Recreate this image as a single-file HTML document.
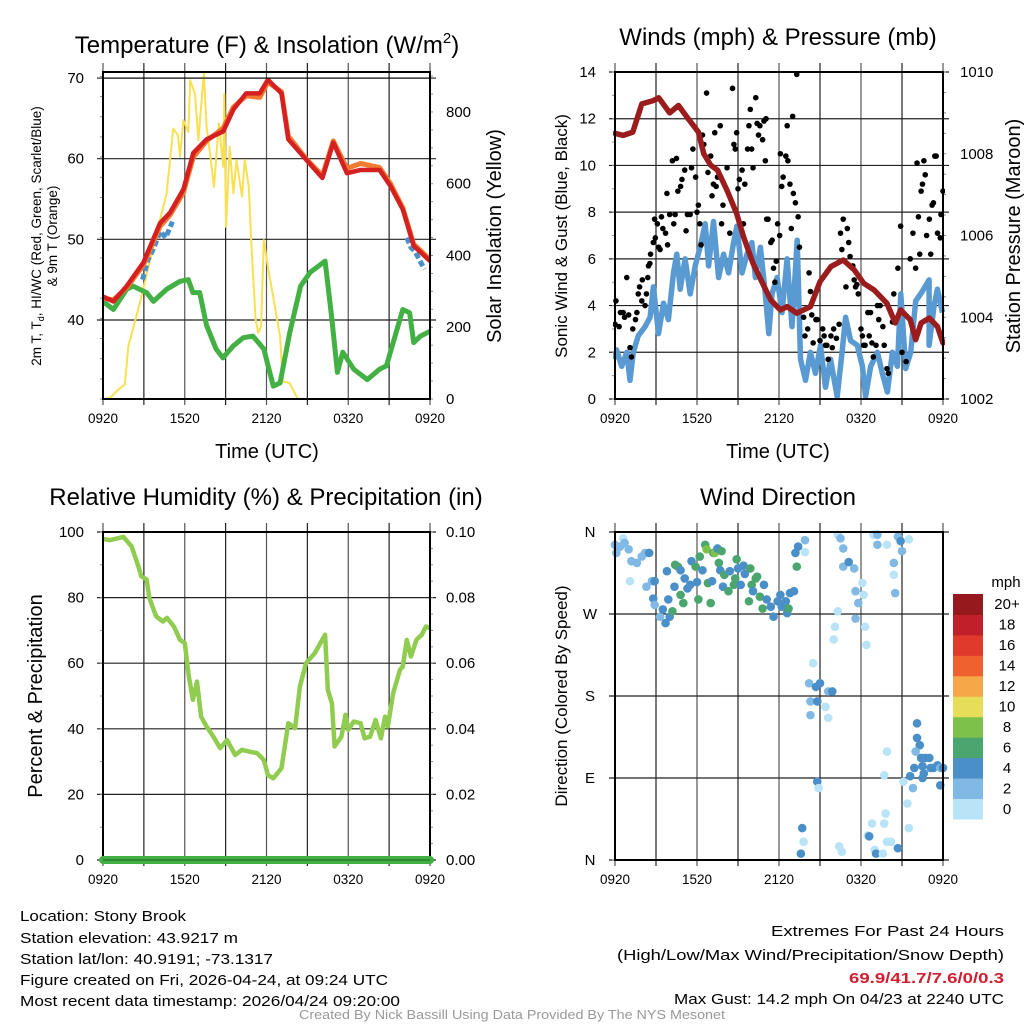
<!DOCTYPE html>
<html><head><meta charset="utf-8"><style>
html,body{margin:0;padding:0;background:#fff;}
svg{display:block;font-family:"Liberation Sans",sans-serif;}
</style></head><body>
<svg id="chart" width="1024" height="1024" viewBox="0 0 1024 1024" xmlns="http://www.w3.org/2000/svg">
<rect width="1024" height="1024" fill="#fff"/>
<g id="layer"></g>
<g font-size="15" fill="#000">
<text x="20" y="921" textLength="166" lengthAdjust="spacingAndGlyphs">Location: Stony Brook</text>
<text x="20" y="943" textLength="218" lengthAdjust="spacingAndGlyphs">Station elevation: 43.9217 m</text>
<text x="20" y="964" textLength="253" lengthAdjust="spacingAndGlyphs">Station lat/lon: 40.9191; -73.1317</text>
<text x="20" y="985" textLength="368" lengthAdjust="spacingAndGlyphs">Figure created on Fri, 2026-04-24, at 09:24 UTC</text>
<text x="20" y="1006" textLength="380" lengthAdjust="spacingAndGlyphs">Most recent data timestamp: 2026/04/24 09:20:00</text>
<text x="1004" y="936" text-anchor="end" textLength="233" lengthAdjust="spacingAndGlyphs">Extremes For Past 24 Hours</text>
<text x="1004" y="960" text-anchor="end" textLength="387" lengthAdjust="spacingAndGlyphs">(High/Low/Max Wind/Precipitation/Snow Depth)</text>
<text x="1004" y="983" text-anchor="end" font-weight="bold" fill="#d02030" textLength="155" lengthAdjust="spacingAndGlyphs">69.9/41.7/7.6/0/0.3</text>
<text x="1004" y="1004" text-anchor="end" textLength="330" lengthAdjust="spacingAndGlyphs">Max Gust: 14.2 mph On 04/23 at 2240 UTC</text>
<text x="512" y="1019" text-anchor="middle" font-size="12.5" fill="#999" textLength="426" lengthAdjust="spacingAndGlyphs">Created By Nick Bassill Using Data Provided By The NYS Mesonet</text>
</g>
</svg>
<script>
// ---------- DATA ----------
const xTickLabels = ["0920","1520","2120","0320","0920"];
const tempHours = [0,0.76,1.74,2.96,4.18,4.92,5.9,6.63,7.6,8.83,9.57,10.5,11.5,12.1,13.1,13.6,14.9,16.1,16.9,17.9,18.9,20.3,21.1,22.0,22.8,24];
const tempRed   = [42.9,42.3,44.2,47.1,52.0,53.3,56.2,60.7,62.4,63.4,66.1,68.1,68.1,69.8,68.1,62.4,59.9,57.6,62.0,58.2,58.6,58.6,56.6,53.7,49.2,47.3];
const temp9m    = [42.7,42.5,44.0,46.8,51.6,53.0,55.8,60.2,62.2,63.8,66.4,67.8,67.6,69.5,68.3,62.8,60.0,57.9,62.2,58.8,59.4,58.9,56.9,53.9,49.4,47.5];
const hiwcHours1 = [2.9,3.3,3.7,4.2,4.6,5.1];
const hiwcVals1  = [45.0,47.5,48.8,51.0,50.2,52.2];
const hiwcHours2 = [22.3,22.6,22.9,23.3,23.6];
const hiwcVals2  = [50.2,49.0,48.5,47.2,46.3];
const dewHours = [0,0.76,1.74,2.2,3.2,3.7,4.67,5.65,6.26,6.6,7.1,7.6,8.3,8.8,9.57,10.3,11.0,11.8,12.5,13.0,13.7,14.5,15.2,16.3,16.8,17.2,17.6,18.4,19.4,20.3,20.8,21.3,22.0,22.5,22.8,23.3,24];
const dewVals  = [42.3,41.3,43.8,44.2,43.4,42.3,43.8,44.8,45.0,43.4,43.4,39.3,36.4,35.3,36.8,37.8,38.0,36.4,31.8,32.2,38.4,44.2,45.9,47.3,40.1,33.5,36.0,33.9,32.6,33.9,34.3,37.2,41.3,40.9,37.2,38.0,38.6];
const solarHours = [0,0.5,1.25,1.6,1.86,2.7,3.7,4.67,5.16,5.5,5.65,5.9,6.26,6.4,6.75,7.0,7.4,7.6,7.85,8.15,8.5,8.83,8.9,9.03,9.3,9.57,9.8,10.2,10.4,10.7,10.9,11.2,11.4,11.6,11.8,12.1,13.0,13.2,13.7,14.3,24];
const solarVals  = [0,3,30,40,146,267,425,573,754,735,675,777,744,888,851,721,907,758,684,591,768,647,851,480,703,573,666,564,666,591,425,221,184,202,443,369,174,49,44,0,0];
const tempTicks = [40,50,60,70];
const solarTicks = [0,200,400,600,800];
const pressHours = [0,0.6,1.3,1.96,2.8,3.2,4.0,4.65,5.26,6.1,6.5,7.0,7.5,8.2,8.9,9.4,10.1,10.8,11.4,12.1,12.6,13.3,14.3,15.0,15.8,16.7,17.5,18.2,18.95,19.9,20.5,20.9,21.6,22.0,22.4,23.0,23.6,24];
const pressVals  = [1008.5,1008.45,1008.53,1009.22,1009.3,1009.37,1009.0,1009.18,1008.9,1008.53,1008.0,1007.72,1007.6,1007.1,1006.54,1005.97,1005.32,1004.83,1004.42,1004.18,1004.26,1004.1,1004.26,1004.87,1005.24,1005.4,1005.16,1004.83,1004.67,1004.34,1003.86,1004.18,1003.94,1003.45,1003.86,1003.98,1003.77,1003.37];
const windHours = [0,0.12,0.49,0.86,1.1,1.34,1.7,2.2,2.57,2.81,3.18,3.55,3.91,4.28,4.52,4.77,5.13,5.5,5.87,6.23,6.6,6.85,7.21,7.58,7.95,8.31,8.68,8.92,9.29,9.66,10.02,10.27,10.64,11.0,11.25,11.49,11.86,12.22,12.59,12.95,13.33,13.57,13.94,14.3,14.67,15.04,15.4,15.77,16.26,16.63,16.87,17.24,17.73,18.1,18.34,18.71,19.2,19.56,19.93,20.3,20.66,20.91,21.27,21.64,22.0,22.37,22.98,22.98,23.35,23.59,23.96];
const windVals  = [1.7,2.1,1.4,2.0,0.8,2.0,2.7,3.1,3.5,4.8,2.8,4.1,3.4,5.4,6.2,4.7,6.0,4.5,5.7,6.5,7.5,5.7,7.6,5.2,6.2,5.4,6.7,7.4,5.4,6.2,6.7,5.2,6.5,4.5,2.8,4.5,5.2,3.7,6.0,3.1,6.8,1.7,0.8,2.0,1.1,2.3,0.5,1.7,0.1,2.1,3.5,2.5,2.3,1.4,0.1,1.4,2.0,1.1,0.3,2.0,1.4,4.5,1.3,2.0,4.2,4.5,5.1,2.3,4.0,4.7,3.7];
const gustHours = [0,0.07,0.3,0.4,0.6,0.7,0.86,1.0,1.1,1.2,1.3,1.5,1.6,1.7,1.8,1.96,2.0,2.2,2.3,2.4,2.45,2.55,2.6,2.8,2.9,2.95,3.1,3.2,3.3,3.4,3.5,3.7,3.8,3.85,4.0,4.2,4.3,4.4,4.5,4.6,4.8,4.9,5.1,5.2,5.3,5.5,5.6,5.7,5.9,6.0,6.1,6.2,6.3,6.4,6.5,6.7,6.8,7.0,7.1,7.2,7.3,7.4,7.5,7.7,7.8,7.9,8.2,8.4,8.6,8.7,8.8,8.9,9.0,9.1,9.3,9.4,9.5,9.7,9.8,9.9,10.0,10.1,10.3,10.4,10.5,10.6,10.8,10.9,11.0,11.05,11.1,11.2,11.4,11.5,11.6,11.7,11.8,11.9,12.05,12.1,12.2,12.3,12.5,12.6,12.65,12.8,12.9,13.0,13.05,13.2,13.3,13.4,13.5,13.8,13.9,14.1,14.2,14.3,14.4,14.5,14.7,14.8,15.0,15.2,15.3,15.4,15.5,15.6,15.8,15.9,16.0,16.2,16.4,16.5,16.6,16.7,16.9,17.0,17.1,17.2,17.4,17.5,17.6,17.7,17.8,18.0,18.1,18.2,18.3,18.5,18.6,18.7,18.8,18.9,19.1,19.2,19.3,19.4,19.6,19.7,19.9,20.0,20.3,20.4,20.7,20.9,21.0,21.3,21.6,21.8,22.0,22.1,22.2,22.3,22.4,22.5,22.6,22.7,22.8,23.0,23.1,23.2,23.3,23.4,23.5,23.6,23.8,23.85,24.0];
const gustVals  = [3.2,4.2,3.1,3.7,3.7,3.5,5.2,3.6,2.2,1.8,3.0,3.4,3.7,4.5,4.8,4.2,5.1,4.0,4.5,5.2,5.7,5.8,6.2,6.7,7.7,6.9,7.5,6.5,6.4,7.8,7.3,7.1,8.8,6.6,7.9,10.2,7.5,7.9,10.3,8.9,9.1,9.4,9.8,7.2,7.9,7.9,9.9,10.7,9.5,8.0,8.3,7.5,6.6,11.3,10.9,13.1,9.7,10.4,8.7,9.2,11.4,9.1,9.5,11.7,7.5,8.3,9.9,7.1,13.3,10.9,10.7,11.4,9.0,9.4,9.8,7.5,9.2,10.7,11.7,12.4,10.7,9.9,12.9,11.8,11.3,11.7,11.1,11.9,10.2,12.0,7.7,7.7,6.7,6.8,5.6,5.0,5.9,7.5,7.0,10.5,9.1,9.5,10.4,11.7,10.2,9.2,7.3,12.1,8.8,8.4,13.9,7.8,6.5,3.5,2.7,3.0,5.4,4.6,3.6,2.4,3.4,3.4,2.5,3.0,2.7,2.3,2.3,1.7,2.7,2.2,3.0,2.6,3.2,7.1,6.4,7.7,4.8,7.3,6.7,6.1,5.7,5.1,4.8,4.9,4.5,3.0,2.7,2.3,2.3,3.7,2.7,3.7,2.4,1.8,2.3,4.0,3.4,4.0,3.1,2.3,1.3,1.1,3.3,4.5,5.6,7.4,2.0,1.6,6.0,7.1,5.6,10.1,7.8,6.2,8.9,9.2,10.2,9.6,7.0,7.7,6.2,8.3,8.4,10.4,10.4,7.1,6.9,7.9,8.9];
const windTicks = [0,2,4,6,8,10,12,14];
const pressTicks = [1002,1004,1006,1008,1010];
const rhHours = [0,0.5,1.5,2.1,2.6,2.8,3.2,3.4,3.9,4.4,4.7,5.2,5.65,6.0,6.3,6.6,6.9,7.2,7.6,8.1,8.6,9.1,9.7,10.2,10.8,11.3,11.8,12.1,12.5,13.1,13.6,14.1,14.45,14.9,15.55,16.3,16.5,16.8,17.0,17.5,17.8,18.0,18.4,18.9,19.2,19.6,20.0,20.4,20.7,20.9,21.3,21.8,22.0,22.3,22.6,23.0,23.4,23.7,24];
const rhVals  = [97.9,97.5,98.5,95.6,89.5,86.5,85.5,79.9,74.3,72.7,73.8,71.2,67.1,66.1,56,48.8,54.4,43.7,40.7,37.6,34.1,36.6,32,33.6,33,32.6,30.5,25.9,24.9,28,41.7,40.2,52.9,60,63.1,68.7,51.9,47.8,34.6,37.6,44.3,39.7,42.2,41.7,37.1,37.6,42.7,37.1,43.7,40.7,50.9,58,59,67.1,62,67.1,68.7,71.2,70.7];
const precipHours = [0,24];
const precipVals  = [0,0];
const rhTicks = [0,20,40,60,80,100];
const precipTicks = ["0.00","0.02","0.04","0.06","0.08","0.10"];
const dirHours = [0,0.1,0.37,0.6,0.7,1.0,1.2,1.1,1.6,1.96,2.2,2.5,2.3,2.7,2.9,2.8,2.9,3.3,3.5,3.7,3.9,4.0,4.2,3.8,4.4,4.6,4.8,4.35,4.8,5.0,5.1,5.3,5.5,5.6,5.9,6.0,6.1,6.2,6.4,6.6,6.7,6.8,7.0,7.1,7.2,7.3,7.5,7.6,7.7,7.8,7.9,8.0,8.3,8.4,8.7,8.8,8.9,9.0,9.2,9.4,9.5,9.8,9.9,10.0,10.1,10.3,10.4,10.6,10.8,10.9,11.1,11.4,11.6,11.9,12.1,12.2,12.5,12.6,12.7,12.8,13.1,13.3,13.2,13.4,13.9,13.9,14.5,14.2,14.7,15.0,14.3,14.8,15.4,15.6,15.9,15.6,14.3,14.8,14.9,13.7,13.8,13.6,16.3,16.5,16.7,16.7,17.1,17.5,17.6,17.8,18.1,18.2,17.6,16.3,16.1,16.0,18.3,18.4,16.4,16.6,18.9,19.2,19.2,19.9,20.4,20.4,20.5,20.7,20.9,21.0,21.5,18.5,18.6,18.8,19.0,19.1,19.6,19.7,19.8,19.9,20.2,20.7,19.9,19.7,21.1,21.4,21.5,21.6,21.8,21.9,22.1,22.1,22.3,22.0,22.4,22.5,22.6,22.7,23.0,23.1,23.3,23.6,23.8,24.0,23.8,22.5];
const dirDeg   = [346,337,344,353,348,341,328,306,326,333,337,337,300,306,306,287,280,267,275,260,286,267,273,317,324,322,318,300,291,282,309,298,302,328,322,305,286,333,318,346,341,304,282,306,337,337,342,326,318,339,300,313,295,317,302,309,330,320,302,323,314,284,320,302,295,309,311,289,276,302,286,278,267,284,291,278,284,271,276,293,295,322,337,344,351,338,216,194,190,194,174,174,168,185,185,156,159,86,79,35,20,7,357,353,342,322,327,320,295,282,304,291,265,273,256,242,256,236,15,9,357,357,346,346,326,313,293,355,350,339,352,27,26,40,11,7,7,40,51,20,20,13,119,93,86,62,35,92,79,101,150,134,126,119,112,103,95,112,112,101,101,104,101,101,82,90];
const dirSpeedClass = [1,1,1,0,1,1,1,0,1,1,1,2,1,1,2,2,1,1,2,2,2,2,3,2,3,3,2,2,3,3,2,2,2,2,3,2,3,3,2,3,4,3,3,2,3,4,2,3,2,3,2,3,3,2,3,3,3,2,2,2,2,3,3,3,2,3,3,3,3,2,2,2,2,2,2,2,2,2,3,2,2,3,2,2,1,0,0,1,2,2,1,2,0,1,2,0,1,2,0,2,0,2,0,1,1,1,2,1,1,1,0,0,1,0,0,0,0,0,0,0,0,1,1,0,1,0,1,1,2,1,0,0,2,0,0,2,0,0,0,0,0,2,0,0,0,0,0,2,1,2,2,2,2,1,2,2,2,2,2,2,2,2,1,2,2,2];
const speedLabels = ["0","2","4","6","8","10","12","14","16","18","20+"];
const speedColors = ["#b9e3f7","#80b9e3","#4a8fc7","#4aa56e","#7ec14a","#e6de5a","#f6a848","#f06130","#e03a2c","#c1202a","#961a1d"];
const dirTicks = ["N","E","S","W","N"];

// ---------- DRAWING ----------
const NS = "http://www.w3.org/2000/svg";
const layer = document.getElementById("layer");
function mk(tag, attrs, parent) {
  const e = document.createElementNS(NS, tag);
  for (const k in attrs) e.setAttribute(k, attrs[k]);
  (parent || layer).appendChild(e);
  return e;
}
function txt(x, y, s, size, anchor, parent, rot) {
  const t = mk("text", {x: x, y: y, "font-size": size, "text-anchor": anchor || "middle", fill: "#000"}, parent);
  if (rot) t.setAttribute("transform", "rotate(" + rot + " " + x + " " + y + ")");
  t.textContent = s;
  return t;
}
function scale(d0, d1, r0, r1) { return v => r0 + (v - d0) / (d1 - d0) * (r1 - r0); }
function pathOf(xs, ys, fx, fy) {
  return xs.map((h, i) => (i ? "L" : "M") + fx(h).toFixed(1) + " " + fy(ys[i]).toFixed(1)).join(" ");
}
function frame(g, L, R, T, B, yMajor, yMinorStep, yMin, yMax, rightTicks) {
  const fx = scale(0, 24, L, R);
  for (let i = 0; i <= 8; i++) {
    const x = fx(i * 3);
    const gl = mk("line", {x1: x, y1: T - 9, x2: x, y2: B + 6, stroke: i % 2 ? "#222" : "#555", "stroke-width": 1.2}, g);
    
    
  }
  const fy = scale(yMin, yMax, B, T);
  yMajor.forEach(v => {
    const y = fy(v);
    const gl = mk("line", {x1: L - 6, y1: y, x2: R + 6, y2: y, stroke: "#222", "stroke-width": 1.2}, g);
    
    
  });
  for (let v = yMin; v <= yMax + 1e-9; v += yMinorStep) {
    const y = fy(v);
    mk("line", {x1: L - 3, y1: y, x2: L, y2: y, stroke: "#888", "stroke-width": 1}, g);
  }
  if (rightTicks) rightTicks.forEach(y => mk("line", {x1: R, y1: y, x2: R + 3, y2: y, stroke: "#888", "stroke-width": 1}, g));
  xTickLabels.forEach((s, i) => {
    const t = txt(fx(i * 6), B + 24, s, 13.5, "middle", g);
    
    
  });
  return {fx, fy};
}
function border(g, L, R, T, B) {
  const b = mk("rect", {x: L, y: T, width: R - L, height: B - T, fill: "none", stroke: "#000", "stroke-width": 2}, g);
  
  
}

(function () {
  const g = mk("g", {});
  
  
  const L = 103, R = 430, T = 72, B = 399;
  const tMin = 30.2, tMax = 70.75;
  const sMax = (B - T) / 0.3588;
  const fyS = scale(0, sMax, B, T);
  const rt = [];
  for (let v = 0; v <= 900; v += 50) rt.push(fyS(v));
  const {fx, fy} = frame(g, L, R, T, B, tempTicks, 2.5, tMin, tMax, rt);
  tempTicks.forEach(v => { const t = txt(84, fy(v) + 5, String(v), 15, "end", g);   });
  solarTicks.forEach(v => { const t = txt(446, fyS(v) + 5, String(v), 15, "start", g);   });
  const clip = mk("clipPath", {id: "c1"}, g); mk("rect", {x: L, y: T, width: R - L, height: B - T}, clip);
  const pg = mk("g", {"clip-path": "url(#c1)"}, g);
  let p = mk("path", {d: pathOf(solarHours, solarVals, fx, fyS), fill: "none", stroke: "#f9e050", "stroke-width": 2, "stroke-linejoin": "round"}, pg);
   
  p = mk("path", {d: pathOf(dewHours, dewVals, fx, fy), fill: "none", stroke: "#43b043", "stroke-width": 5, "stroke-linejoin": "round", "stroke-linecap": "round"}, pg);
   
  p = mk("path", {d: pathOf(hiwcHours1, hiwcVals1, fx, fy), fill: "none", stroke: "#4a90c8", "stroke-width": 5, "stroke-dasharray": "6 3"}, pg);
   
  p = mk("path", {d: pathOf(hiwcHours2, hiwcVals2, fx, fy), fill: "none", stroke: "#4a90c8", "stroke-width": 5, "stroke-dasharray": "6 3"}, pg);
   
  p = mk("path", {d: pathOf(tempHours, temp9m, fx, fy), fill: "none", stroke: "#f07a30", "stroke-width": 5, "stroke-linejoin": "round"}, pg);
   
  p = mk("path", {d: pathOf(tempHours, tempRed, fx, fy), fill: "none", stroke: "#d42020", "stroke-width": 4.5, "stroke-linejoin": "round"}, pg);
   
  mk("line", {x1: L, y1: fy(70), x2: R, y2: fy(70), stroke: "#000", "stroke-width": 1.2}, g);
  border(g, L, R, T, B);
  let t = txt(267, 53, "", 24, "middle", g);
   
  t.textContent = "Temperature (F) & Insolation (W/m";
  const sup = mk("tspan", {dy: -10, "font-size": 15}, t); sup.textContent = "2";
  const cl = mk("tspan", {dy: 10}, t); cl.textContent = ")";
  t = txt(267, 458, "Time (UTC)", 20, "middle", g);  
  t = txt(41, 236, "", 13.5, "middle", g, -90);  
  t.innerHTML = '2m T, T<tspan dy="3" font-size="9">d</tspan><tspan dy="-3">, HI/WC (Red, Green, Scarlet/Blue)</tspan>';
  t = txt(57, 236, "& 9m T (Orange)", 13.5, "middle", g, -90);  
  t = txt(501, 236, "Solar Insolation (Yellow)", 20, "middle", g, -90);  
})();

(function () {
  const g = mk("g", {});
  
  
  const L = 615, R = 943, T = 72, B = 399;
  const fyP = scale(1002, 1010, B, T);
  const rt = []; for (let v = 1002; v <= 1010; v += 0.5) rt.push(fyP(v));
  const {fx, fy} = frame(g, L, R, T, B, windTicks, 1, 0, 14, rt);
  windTicks.forEach(v => { const t = txt(596, fy(v) + 5, String(v), 15, "end", g);   });
  pressTicks.forEach(v => { const t = txt(960, fyP(v) + 5, String(v), 15, "start", g);   });
  const clip = mk("clipPath", {id: "c2"}, g); mk("rect", {x: L - 2, y: T - 2, width: R - L + 4, height: B - T + 4}, clip);
  const pg = mk("g", {"clip-path": "url(#c2)"}, g);
  let p = mk("path", {d: pathOf(windHours, windVals, fx, fy), fill: "none", stroke: "#5a9ad2", "stroke-width": 5.5, "stroke-linejoin": "round"}, pg);
   
  gustHours.forEach((h, i) => {
    const c = mk("circle", {cx: fx(h), cy: fy(gustVals[i]), r: 2.8, fill: "#000"}, pg);
    
    
  });
  p = mk("path", {d: pathOf(pressHours, pressVals, fx, fyP), fill: "none", stroke: "#9b1c1c", "stroke-width": 5.5, "stroke-linejoin": "round", "stroke-linecap": "round"}, pg);
   
  border(g, L, R, T, B);
  let t = txt(778, 45, "Winds (mph) & Pressure (mb)", 24, "middle", g);  
  t = txt(778, 458, "Time (UTC)", 20, "middle", g);  
  t = txt(567, 236, "Sonic Wind & Gust (Blue, Black)", 17, "middle", g, -90);  
  t = txt(1020, 236, "Station Pressure (Maroon)", 20, "middle", g, -90);  
})();

(function () {
  const g = mk("g", {});
  
  
  const L = 103, R = 430, T = 532, B = 860;
  const fyP = scale(0, 0.1, B, T);
  const rt = []; for (let v = 0; v <= 0.1001; v += 0.005) rt.push(fyP(v));
  const {fx, fy} = frame(g, L, R, T, B, rhTicks, 10, 0, 100, rt);
  rhTicks.forEach(v => { const t = txt(84, fy(v) + 5, String(v), 15, "end", g);   });
  precipTicks.forEach((s, i) => { const t = txt(446, fyP(i * 0.02) + 5, s, 15, "start", g);   });
  let p = mk("path", {d: pathOf(rhHours, rhVals, fx, fy), fill: "none", stroke: "#8fcc4f", "stroke-width": 4.5, "stroke-linejoin": "round"}, g);
   
  border(g, L, R, T, B);
  p = mk("path", {d: pathOf(precipHours, precipVals, fx, fyP), fill: "none", stroke: "#43b043", "stroke-width": 8, "stroke-linecap": "round"}, g);
   
  mk("line", {x1: L, y1: B, x2: R, y2: B, stroke: "#2a7a2a", "stroke-width": 1.5}, g);
  let t = txt(266, 505, "Relative Humidity (%) & Precipitation (in)", 24, "middle", g);  
  t = txt(42, 696, "Percent & Precipitation", 20, "middle", g, -90);  
})();

(function () {
  const g = mk("g", {});
  
  
  const L = 615, R = 943, T = 532, B = 860;
  const {fx, fy} = frame(g, L, R, T, B, [0, 90, 180, 270, 360], 1000, 0, 360, null);
  dirTicks.forEach((s, i) => { const t = txt(590, fy(i * 90) + 5, s, 15, "middle", g);   });
  dirHours.forEach((h, i) => {
    const c = mk("circle", {cx: fx(h), cy: fy(dirDeg[i]), r: 4.3, fill: speedColors[dirSpeedClass[i]]}, g);
    
    
  });
  border(g, L, R, T, B);
  let t = txt(778, 505, "Wind Direction", 24, "middle", g);  
  t = txt(567, 696, "Direction (Colored By Speed)", 17, "middle", g, -90);  
  const cb = mk("g", {}, g);
  
  
  const cbTop = 594, cbBot = 819, h = (cbBot - cbTop) / speedLabels.length;
  speedLabels.forEach((s, i) => {
    const y = cbBot - (i + 1) * h;
    const r = mk("rect", {x: 953, y: y, width: 30, height: h + 0.5, fill: speedColors[i]}, cb);
    
    
    const tl = txt(1007, y + h / 2 + 5, s, 15, "middle", cb);
    
    
  });
  t = txt(1006, 587, "mph", 15, "middle", cb);  
})();
</script>
</body></html>
